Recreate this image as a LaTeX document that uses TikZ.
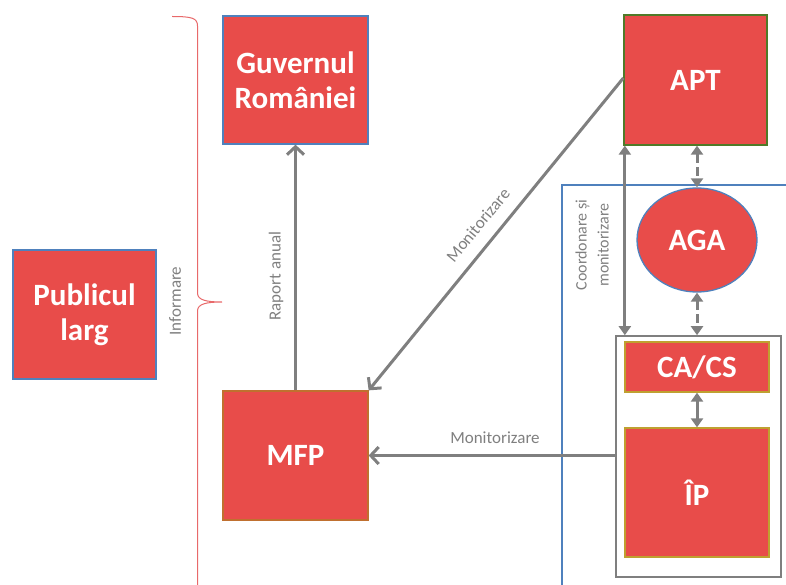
\documentclass[tikz,border=0pt]{standalone}
\usepackage{fontspec}
\setmainfont{Carlito}
\usetikzlibrary{arrows.meta,shapes.geometric}
\definecolor{boxred}{HTML}{E84C4A}
\definecolor{bblue}{HTML}{4F81BD}
\definecolor{bgreen}{HTML}{4F7A28}
\definecolor{borange}{HTML}{C0702F}
\definecolor{bgold}{HTML}{BFA030}
\definecolor{agray}{HTML}{7F7F7F}
\definecolor{bracered}{HTML}{E8696A}
\tikzset{
  box/.style={fill=boxred, draw, line width=1.3pt, text=white, align=center,
    font=\bfseries\fontsize{31}{35}\selectfont, inner sep=0pt},
  lbl/.style={text=agray, font=\fontsize{17}{19}\selectfont, inner sep=0pt, align=center},
  conn/.style={draw=agray, line width=3pt},
  barb/.style={-{Straight Barb[length=8pt,width=17pt]}},
  dtri/.style={{Triangle[length=9pt,width=12pt]}-{Triangle[length=9pt,width=12pt]}},
  dashy/.style={dash pattern=on 9pt off 4pt},
}
\begin{document}
\begin{tikzpicture}[x=1pt,y=-1pt]
\useasboundingbox (0,0) rectangle (786,585);
% blue frame (open at right and bottom)
\draw[bblue, line width=1.3pt] (786,185) -- (562,185) -- (562,585);
% brace
\draw[bracered, line width=1pt] (172,16.5) .. controls (192,16.5) and (197.5,18) .. (197.5,26)
  -- (197.5,293) .. controls (197.5,300) and (206,302) .. (222,302)
  .. controls (206,302) and (197.5,304) .. (197.5,311) -- (197.5,586);
% nodes
\node[box, draw=bblue, minimum width=145pt, minimum height=128pt] (gov) at (295.5,80) {Guvernul\\României};
\node[box, draw=bgreen, minimum width=143pt, minimum height=130pt] (apt) at (695.5,80) {APT};
\node[box, draw=bblue, minimum width=143pt, minimum height=129pt] (pub) at (84.5,314.5) {Publicul\\larg};
\node[box, draw=borange, minimum width=145pt, minimum height=129pt] (mfp) at (295.5,455.5) {MFP};
\node[box, ellipse, draw=bblue, minimum width=120pt, minimum height=104pt] (aga) at (697,240) {AGA};
\node[draw=agray, line width=1.6pt, minimum width=165pt, minimum height=241pt, inner sep=0pt] (cont) at (698.5,456.5) {};
\node[box, draw=bgold, minimum width=144pt, minimum height=50pt] (cacs) at (697,367) {CA/CS};
\node[box, draw=bgold, minimum width=144pt, minimum height=129pt] (ip) at (697,492.5) {ÎP};
% labels
\node[lbl, rotate=90] (linf) at (175,301) {Informare};
\node[lbl, rotate=90] (lrap) at (276,276) {Raport anual};
\node[lbl, rotate=50.5] (lmon1) at (478,225) {Monitorizare};
\node[lbl] (lmon2) at (495,438) {Monitorizare};
\node[lbl, rotate=90, font=\fontsize{16}{22}\selectfont] (lcoo) at (592,245) {Coordonare și\\monitorizare};
% connectors
\draw[conn, barb] (mfp.north) -- (gov.south);
\draw[conn, barb] ([yshift=2pt]apt.west) -- (mfp.north east);
\draw[conn, barb] (cont.west |- mfp.east) -- (mfp.east);
\draw[conn, dtri] ([xshift=1.5pt]apt.south west) -- ([xshift=1.5pt]apt.south west |- cont.north);
\draw[conn, dtri, dashy] ([xshift=1.5pt]apt.south) -- (aga.north);
\draw[conn, dtri, dashy] (aga.south) -- (aga.south |- cont.north);
\draw[conn, dtri] (cacs.south) -- (ip.north);
\end{tikzpicture}
\end{document}
